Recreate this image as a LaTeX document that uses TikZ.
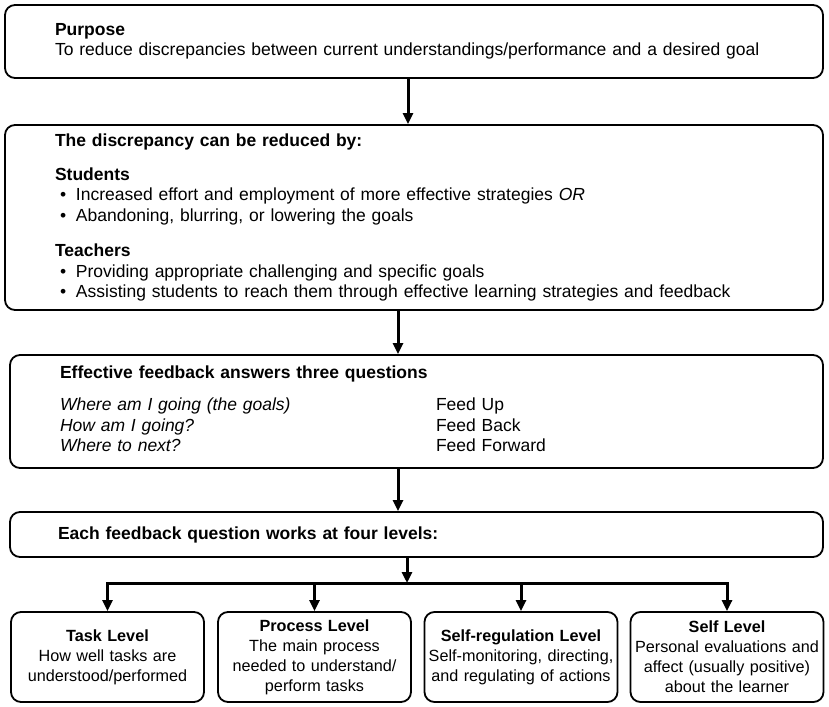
\documentclass[tikz,border=0pt]{standalone}
\usepackage{fontspec}
\setmainfont{Liberation Sans}
\usetikzlibrary{arrows.meta,positioning}

\newcommand{\itm}{\hspace*{5pt}\makebox[16pt][l]{\textbullet}}

\begin{document}
\begin{tikzpicture}[x=1pt,y=-1pt,
  box/.style={draw, line width=1.8pt, rounded corners=10pt, align=left, inner ysep=0pt, font=\fontsize{17.5}{20.5}\selectfont},
  lvl/.style={draw, line width=1.8pt, rounded corners=10pt, align=center, minimum width=193pt, minimum height=90pt, text width=187pt, inner xsep=3pt, font=\fontsize{16.2}{20}\selectfont},
  arr/.style={line width=3pt, -{Triangle[width=10pt,length=11pt]}},
  bus/.style={line width=3pt}]
\useasboundingbox (0,0) rectangle (829,706);

% Top boxes
\node[box, minimum width=818pt, minimum height=73pt, text width=718pt, inner xsep=50pt] (purpose) at (414,41.5)
  {\textbf{Purpose}\\To reduce discrepancies between current understandings/performance and a desired goal};

\node[box, minimum width=818pt, minimum height=185pt, text width=718pt, inner xsep=50pt] (reduce) at (414,217.5)
  {\textbf{The discrepancy can be reduced by:}\\[13pt]
   \textbf{Students}\\
   \itm Increased effort and employment of more effective strategies \textit{OR}\\
   \itm Abandoning, blurring, or lowering the goals\\[15pt]
   \textbf{Teachers}\\
   \itm Providing appropriate challenging and specific goals\\
   \itm Assisting students to reach them through effective learning strategies and feedback};

\node[box, minimum width=813pt, minimum height=113pt, text width=713pt, inner xsep=50pt] (questions) at (416.5,411.5)
  {\textbf{Effective feedback answers three questions}\\[12pt]
   \begin{tabular}[t]{@{}p{376pt}@{}l@{}}
   \textit{Where am I going (the goals)} & Feed Up\\
   \textit{How am I going?} & Feed Back\\
   \textit{Where to next?} & Feed Forward
   \end{tabular}};

\node[box, minimum width=813pt, minimum height=45pt, text width=717pt, inner xsep=48pt] (levels) at (416.5,534.5)
  {\textbf{Each feedback question works at four levels:}};

% Four levels
\node[lvl] (task) at (107.5,657) {\textbf{Task Level}\\How well tasks are\\understood/performed};
\node[lvl] (process) at (314.5,657) {\textbf{Process Level}\\The main process\\needed to understand/\\perform tasks};
\node[lvl] (selfreg) at (521,657) {\textbf{Self-regulation Level}\\Self-monitoring, directing,\\and regulating of actions};
\node[lvl] (self) at (727,657) {\textbf{Self Level}\\Personal evaluations and\\affect (usually positive)\\about the learner};

% Arrows
\coordinate (c1) at (408,0);
\coordinate (c2) at (398,0);
\coordinate (bus) at (407,583);
\draw[arr] (purpose.south -| c1) -- (reduce.north -| c1);
\draw[arr] (reduce.south -| c2) -- (questions.north -| c2);
\draw[arr] (questions.south -| c2) -- (levels.north -| c2);
\draw[arr] (levels.south -| bus) -- (bus);
\draw[bus] ([xshift=-1.5pt]task.north |- bus) -- ([xshift=1.5pt]self.north |- bus);
\foreach \n in {task,process,selfreg,self}
  \draw[arr] (\n.north |- bus) -- (\n.north);
\end{tikzpicture}
\end{document}
